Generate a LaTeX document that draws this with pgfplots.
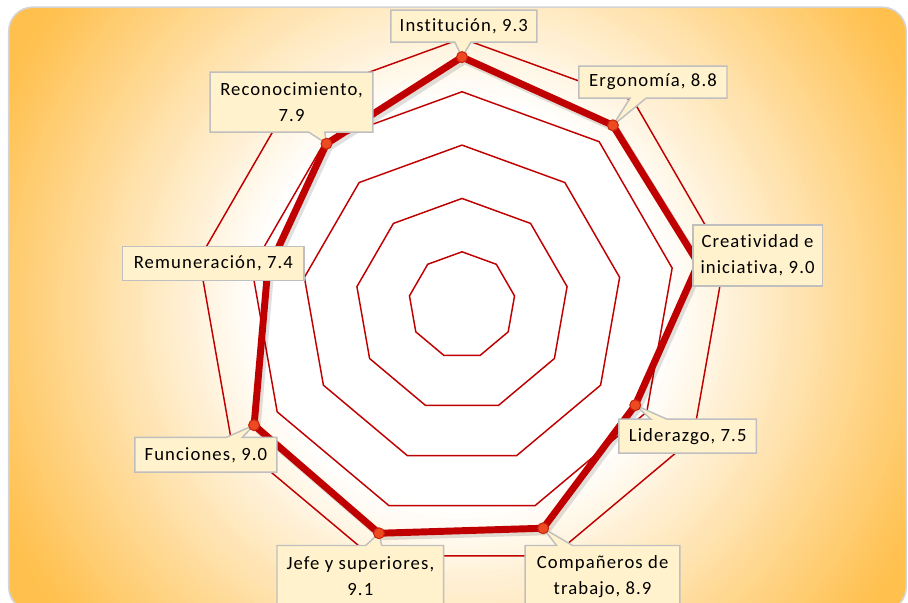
\documentclass[border=0pt]{standalone}
\usepackage{fontspec}
\setmainfont{Carlito}[LetterSpace=6, Ligatures=NoCommon]
\usepackage{pgfplots}
\pgfplotsset{compat=1.18}
\usetikzlibrary{shapes.callouts}

\definecolor{gridred}{HTML}{C00000}
\definecolor{markfill}{HTML}{EE4A22}
\definecolor{markrim}{HTML}{C8260C}
\definecolor{boxfill}{HTML}{FFF2CC}
\definecolor{boxdraw}{HTML}{BFBFBF}
\definecolor{bgborder}{HTML}{D4D4D4}
\definecolor{bgD}{HTML}{FFC04D}

\tikzset{
  lbl/.style={draw=boxdraw, fill=boxfill, line width=1.1pt, inner sep=2pt,
    align=center, text=black, font=\fontsize{14}{19.5}\selectfont},
  co/.style={rectangle callout, callout pointer width=12pt, callout absolute pointer={#1}}
}

\begin{document}
\begin{tikzpicture}
% chart area background: white centre fading to orange
\begin{scope}
  \clip[rounded corners=18pt] (-339.8pt,-229.4pt) rectangle (333pt,223.4pt);
  \fill[bgD] (-350pt,-240pt) rectangle (350pt,240pt);
  \foreach \r in {404,400,...,152} {
    \pgfmathsetmacro\p{min(100,max(0,(\r-155)/227*100))}
    \fill[bgD!\p!white] (0,0) circle (\r pt);
  }
\end{scope}
\draw[rounded corners=18pt, draw=bgborder, line width=1.2pt] (-339.8pt,-229.4pt) rectangle (333pt,223.4pt);

\begin{axis}[
    at={(-346.4pt,-222.8pt)}, anchor=south west,
    x=20pt, y=20pt, scale only axis,
    xmin=-17.32, xmax=16.72, ymin=-11.14, ymax=11.44,
    hide axis, clip=false,
  ]
% grid rings at 2, 4, 6, 8, 10
\addplot[gridred, line width=1.1pt, data cs=polar, line join=miter] coordinates {(90,2)(50,2)(10,2)(-30,2)(-70,2)(-110,2)(-150,2)(170,2)(130,2)(90,2)(50,2)};
\addplot[gridred, line width=1.1pt, data cs=polar, line join=miter] coordinates {(90,4)(50,4)(10,4)(-30,4)(-70,4)(-110,4)(-150,4)(170,4)(130,4)(90,4)(50,4)};
\addplot[gridred, line width=1.1pt, data cs=polar, line join=miter] coordinates {(90,6)(50,6)(10,6)(-30,6)(-70,6)(-110,6)(-150,6)(170,6)(130,6)(90,6)(50,6)};
\addplot[gridred, line width=1.1pt, data cs=polar, line join=miter] coordinates {(90,8)(50,8)(10,8)(-30,8)(-70,8)(-110,8)(-150,8)(170,8)(130,8)(90,8)(50,8)};
\addplot[gridred, line width=1.1pt, data cs=polar, line join=miter] coordinates {(90,10)(50,10)(10,10)(-30,10)(-70,10)(-110,10)(-150,10)(170,10)(130,10)(90,10)(50,10)};

% shadow of the series
\addplot[black, opacity=0.12, line width=5.5pt, line join=round, no marks, data cs=polar, xshift=2pt, yshift=-2.5pt]
  coordinates {(90,9.3)(50,8.8)(10,9.0)(-30,7.5)(-70,8.9)(-110,9.1)(-150,9.0)(170,7.4)(130,7.9)(90,9.3)};
% series (markers under the two covering labels are hidden behind them)
\addplot[gridred, line width=5.2pt, line join=round, data cs=polar,
    mark=*, mark size=4.1pt, mark indices={1,2,4,5,6,7,9},
    mark options={fill=markfill, draw=markrim, line width=0.8pt}]
  coordinates {(90,9.3)(50,8.8)(10,9.0)(-30,7.5)(-70,8.9)(-110,9.1)(-150,9.0)(170,7.4)(130,7.9)};
\addplot[gridred, line width=5.2pt, line join=round, data cs=polar, no marks]
  coordinates {(130,7.9)(90,9.3)};

% data labels
\node[lbl, co={(axis cs:0,9.3)}, minimum width=109.5pt, minimum height=24pt] at (axis cs:0.07,10.46) {Institución, 9.3};
\node[lbl, co={(axis cs:5.657,6.741)}, minimum width=111pt, minimum height=24pt] at (axis cs:7.16,8.36) {Ergonomía, 8.8};
\node[lbl, minimum width=97pt, minimum height=46pt] at (axis cs:11.08,1.86) {Creatividad e\\iniciativa, 9.0};
\node[lbl, co={(axis cs:6.495,-3.75)}, minimum width=103pt, minimum height=25.5pt] at (axis cs:8.46,-4.91) {Liderazgo, 7.5};
\node[lbl, co={(axis cs:3.044,-8.363)}, minimum width=116pt, minimum height=46pt] at (axis cs:5.27,-10.16) {Compañeros de\\trabajo, 8.9};
\node[lbl, co={(axis cs:-3.112,-8.551)}, minimum width=125pt, minimum height=46pt] at (axis cs:-3.81,-10.16) {Jefe y superiores,\\9.1};
\node[lbl, co={(axis cs:-7.794,-4.5)}, minimum width=106.5pt, minimum height=26pt] at (axis cs:-9.60,-5.61) {Funciones, 9.0};
\node[lbl, minimum width=136pt, minimum height=25.5pt] at (axis cs:-9.32,1.57) {Remuneración, 7.4};
\node[lbl, co={(axis cs:-5.078,6.052)}, minimum width=122pt, minimum height=45pt] at (axis cs:-6.39,7.61) {Reconocimiento,\\7.9};
\end{axis}
\pgfresetboundingbox
\useasboundingbox (-346.4pt,-222.8pt) rectangle (334.4pt,228.8pt);
\end{tikzpicture}
\end{document}
